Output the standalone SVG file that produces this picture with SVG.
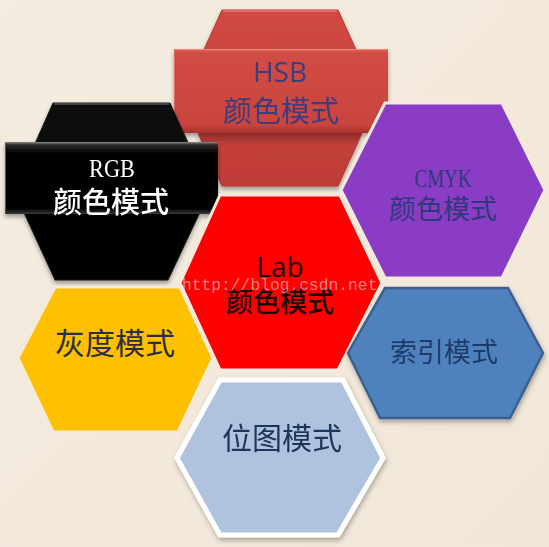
<svg xmlns="http://www.w3.org/2000/svg" width="549" height="547" viewBox="0 0 549 547">
<defs>
<linearGradient id="bg" x1="0" y1="0" x2="1" y2="1">
<stop offset="0" stop-color="#F4ECE0"/>
<stop offset="1" stop-color="#F1E7D8"/>
</linearGradient>
<linearGradient id="redHex" x1="0" y1="0" x2="0" y2="1">
<stop offset="0" stop-color="#D04942"/>
<stop offset="1" stop-color="#BE3D37"/>
</linearGradient>
<linearGradient id="redBand" x1="0" y1="0" x2="0" y2="1">
<stop offset="0" stop-color="#E0625A"/>
<stop offset="0.05" stop-color="#D24C45"/>
<stop offset="0.9" stop-color="#C9443E"/>
<stop offset="1" stop-color="#A9322D"/>
</linearGradient>
<linearGradient id="blackHex" x1="0" y1="0" x2="0" y2="1">
<stop offset="0" stop-color="#0A0A0A"/>
<stop offset="1" stop-color="#020202"/>
</linearGradient>
<linearGradient id="blackBand" x1="0" y1="0" x2="0" y2="1">
<stop offset="0" stop-color="#8A8A8A"/>
<stop offset="0.04" stop-color="#2A2A2A"/>
<stop offset="0.15" stop-color="#050505"/>
<stop offset="0.93" stop-color="#050505"/>
<stop offset="1" stop-color="#3A3A3A"/>
</linearGradient>
<linearGradient id="shade" x1="0" y1="0" x2="0" y2="1">
<stop offset="0" stop-color="#000" stop-opacity="0.3"/>
<stop offset="1" stop-color="#000" stop-opacity="0"/>
</linearGradient>
<filter id="drop" x="-10%" y="-10%" width="120%" height="125%">
<feDropShadow dx="0" dy="3" stdDeviation="2" flood-color="#000" flood-opacity="0.35"/>
</filter>
<filter id="soft" x="-10%" y="-10%" width="120%" height="125%">
<feDropShadow dx="1" dy="3" stdDeviation="2.5" flood-color="#000" flood-opacity="0.3"/>
</filter>
<clipPath id="hsbClip"><polygon points="222,10 338,10 378,98 338,186 222,186 182,98"/></clipPath>
</defs>
<style>
.cjk{font-family:"Noto Sans CJK SC","Noto Sans",sans-serif;text-anchor:middle}
.lat{font-family:"Open Sans","Noto Sans",sans-serif;text-anchor:middle}
.ser{font-family:"Liberation Serif","DejaVu Serif",serif;text-anchor:middle}
.gap{stroke:#F3EADD;stroke-width:3;stroke-linejoin:miter}
</style>
<rect width="549" height="547" fill="url(#bg)"/>

<g id="node-hsb" filter="url(#drop)">
<polygon points="222,10 338,10 378,98 338,186 222,186 182,98" fill="url(#redHex)" stroke="#B3362F" stroke-width="1"/>
<line x1="223" y1="11" x2="337" y2="11" stroke="#E8776F" stroke-width="1.5"/>
<rect x="182" y="133" width="200" height="12" fill="url(#shade)" clip-path="url(#hsbClip)"/>
<rect x="174" y="49" width="214" height="84" fill="url(#redBand)"/>
<line x1="175" y1="49.5" x2="387" y2="49.5" stroke="#EE8880" stroke-width="1"/>
<line x1="174.5" y1="50" x2="174.5" y2="132" stroke="#E06A62" stroke-width="1"/>
<text class="lat" x="280" y="82" font-size="28" fill="#3B3D7C">HSB</text>
<text class="cjk" x="281" y="122" font-size="29" fill="#3B3D7C">颜色模式</text>
</g>

<g id="node-rgb" filter="url(#drop)">
<polygon points="53,103 170,103 210,191 168,280 55,280 14,191" fill="url(#blackHex)" stroke="#1A1A1A" stroke-width="1"/>
<line x1="54" y1="104" x2="169" y2="104" stroke="#777" stroke-width="1.2"/>
<rect x="5" y="142" width="213" height="72" fill="url(#blackBand)"/>
<line x1="5.5" y1="143" x2="5.5" y2="213" stroke="#555" stroke-width="1"/>
<text class="ser" x="112" y="177" font-size="26" fill="#FFFFFF" textLength="46" lengthAdjust="spacingAndGlyphs">RGB</text>
<text class="cjk" x="111" y="213" font-size="29" fill="#FFFFFF" font-weight="500">颜色模式</text>
</g>

<g id="node-cmyk">
<polygon class="gap" points="385,103 502,103 545,190 502,278 385,278 341,190" fill="#8B3CC5"/>
<text class="ser" x="443" y="187" font-size="25" fill="#2B3A7A" textLength="57" lengthAdjust="spacingAndGlyphs">CMYK</text>
<text class="cjk" x="443" y="219" font-size="27" fill="#2B3A7A">颜色模式</text>
</g>

<g id="node-lab">
<polygon class="gap" points="220,195 340,195 382,283 338,370 220,370 180,283" fill="#FE0000"/>
<text class="lat" x="280" y="277" font-size="28" fill="#1A0505">Lab</text>
<text class="cjk" x="280" y="312" font-size="27" fill="#1A0505" font-weight="500">颜色模式</text>
</g>

<g id="node-gray">
<polygon class="gap" points="55,287 180,287 213,358 178,432 53,432 18,358" fill="#FFC000"/>
<text class="cjk" x="115" y="354" font-size="30" fill="#2A3040">灰度模式</text>
</g>

<g id="node-index" filter="url(#soft)">
<polygon points="385,288 508,288 543,353 510,418 380,418 348,353" fill="#4F81BD" stroke="#3A6090" stroke-width="2.5" stroke-linejoin="miter"/>
<text class="cjk" x="444" y="362" font-size="27" fill="#1F3A6A">索引模式</text>
</g>

<g id="node-bitmap" filter="url(#soft)">
<polygon points="220,380 343,380 383,458 338,535 220,535 177,458" fill="#B0C3DE" stroke="#FFFFFF" stroke-width="5" stroke-linejoin="miter"/>
<text class="cjk" x="282" y="449" font-size="30" fill="#1F3458">位图模式</text>
</g>

<g id="connectors"></g>

<text x="182" y="290" font-family="Liberation Mono,DejaVu Sans Mono,monospace" font-size="16.3" fill="#E4E4E4" fill-opacity="0.55">http://blog.csdn.net</text>
</svg>
